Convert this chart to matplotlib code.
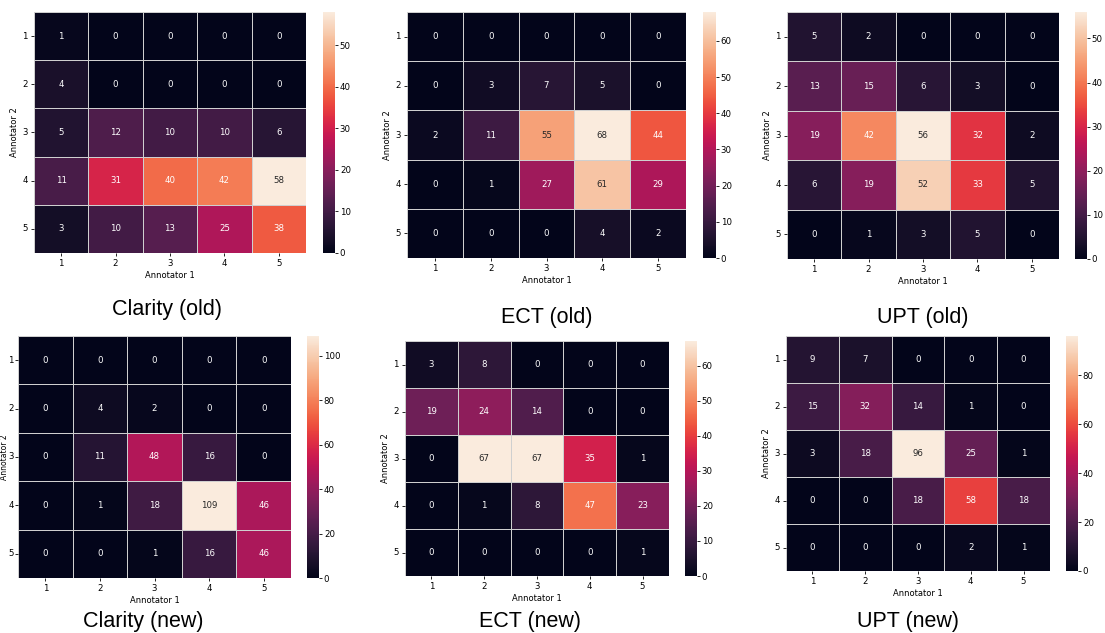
import numpy as np
import matplotlib
matplotlib.use("Agg")
import matplotlib.pyplot as plt
import seaborn as sns

labels = [1, 2, 3, 4, 5]

clarity_old = [[1, 0, 0, 0, 0],
               [4, 0, 0, 0, 0],
               [5, 12, 10, 10, 6],
               [11, 31, 40, 42, 58],
               [3, 10, 13, 25, 38]]
ect_old = [[0, 0, 0, 0, 0],
           [0, 3, 7, 5, 0],
           [2, 11, 55, 68, 44],
           [0, 1, 27, 61, 29],
           [0, 0, 0, 4, 2]]
upt_old = [[5, 2, 0, 0, 0],
           [13, 15, 6, 3, 0],
           [19, 42, 56, 32, 2],
           [6, 19, 52, 33, 5],
           [0, 1, 3, 5, 0]]
clarity_new = [[0, 0, 0, 0, 0],
               [0, 4, 2, 0, 0],
               [0, 11, 48, 16, 0],
               [0, 1, 18, 109, 46],
               [0, 0, 1, 16, 46]]
ect_new = [[3, 8, 0, 0, 0],
           [19, 24, 14, 0, 0],
           [0, 67, 67, 35, 1],
           [0, 1, 8, 47, 23],
           [0, 0, 0, 0, 1]]
upt_new = [[9, 7, 0, 0, 0],
           [15, 32, 14, 1, 0],
           [3, 18, 96, 25, 1],
           [0, 0, 18, 58, 18],
           [0, 0, 0, 2, 1]]

titles = ["Clarity (old)", "ECT (old)", "UPT (old)",
          "Clarity (new)", "ECT (new)", "UPT (new)"]
matrices = [clarity_old, ect_old, upt_old, clarity_new, ect_new, upt_new]

W, H = 1105, 633
fig = plt.figure(figsize=(W / 100, H / 100), dpi=100)

# pixel boxes: (left, right, top, bottom) heatmap; (cb_left, cb_right); title (x, y)
layout = [
    ((34, 306, 12, 253), (323, 335), (167, 310)),
    ((407, 686, 12, 258), (703, 716), (547, 318)),
    ((787, 1059, 12, 259), (1075, 1087), (923, 318)),
    ((18, 291, 336, 578), (307, 319), (143, 621)),
    ((405, 669, 341, 576), (685, 697), (530, 621)),
    ((786, 1050, 336, 571), (1066, 1078), (908, 621)),
]

def frac(l, r, t, b):
    return [l / W, 1 - b / H, (r - l) / W, (b - t) / H]

for i, (mat, title, (hb, cb, tp)) in enumerate(zip(matrices, titles, layout)):
    l, r, t, b = hb
    ax = fig.add_axes(frac(l, r, t, b))
    cax = fig.add_axes(frac(cb[0], cb[1], t, b))
    sns.heatmap(np.array(mat), ax=ax, cbar_ax=cax, cmap="rocket", annot=True,
                fmt="d", annot_kws={"fontsize": 6.2},
                linewidths=0.5, linecolor="#cfcfcf",
                xticklabels=labels, yticklabels=labels)
    ax.tick_params(labelsize=6.2, length=2.5, width=0.6, pad=2)
    ax.set_yticklabels(labels, rotation=0)
    ax.set_xlabel("Annotator 1", fontsize=6, labelpad=2)
    ax.set_ylabel("Annotator 2", fontsize=6, labelpad=2)
    if i == 3:
        # tight left margin: squeeze y ticks and keep label inside the figure
        ax.tick_params(axis="y", length=2, pad=1)
        ax.set_ylabel("Annotator 2", fontsize=5.5)
        ax.yaxis.set_label_coords((9.3 - l) / (r - l), 0.5)
    cax.tick_params(labelsize=6.2, length=2, width=0.6, pad=1.5)
    for s in cax.spines.values():
        s.set_visible(False)
    fig.text(tp[0] / W, 1 - tp[1] / H, title, ha="center", va="center",
             fontsize=15.5, family="Liberation Sans")

fig.savefig("out.png", dpi=100)
